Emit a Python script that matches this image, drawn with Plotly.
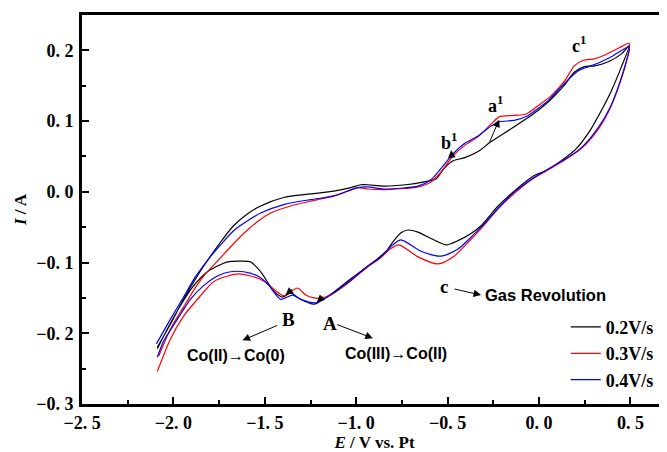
import plotly.graph_objects as go

# ---- data (E / V vs. Pt, I / A) ----
series_names = ["0.2V/s", "0.3V/s", "0.4V/s"]
series_colors = ["#000000", "#ff0000", "#0000ff"]

# 0.2 V/s : anodic branch then cathodic branch
e_02 = [-2.088, -2.016, -1.945, -1.879, -1.808, -1.742, -1.671, -1.594, -1.523, -1.397,
        -1.249, -1.123, -1.030, -0.975, -0.936, -0.849, -0.728, -0.629, -0.564, -0.520,
        -0.470, -0.410, -0.333, -0.262, -0.136, -0.032, 0.050, 0.133, 0.193, 0.248,
        0.303, 0.379, 0.451, 0.494,
        0.451, 0.396, 0.341, 0.275, 0.204, 0.122, 0.039, -0.026, -0.136, -0.224,
        -0.317, -0.372, -0.443, -0.509, -0.591, -0.662, -0.717, -0.755, -0.794, -0.830,
        -0.880, -0.936, -1.030, -1.123, -1.194, -1.232, -1.304, -1.359, -1.402, -1.452,
        -1.523, -1.578, -1.633, -1.704, -1.759, -1.814, -1.890, -1.962, -2.033, -2.088]
i_02 = [-0.220, -0.187, -0.152, -0.123, -0.095, -0.071, -0.048, -0.031, -0.020, -0.008,
        -0.003, 0.001, 0.006, 0.010, 0.010, 0.008, 0.010, 0.014, 0.018, 0.033,
        0.044, 0.048, 0.057, 0.071, 0.092, 0.110, 0.127, 0.149, 0.169, 0.177,
        0.178, 0.184, 0.195, 0.207,
        0.177, 0.143, 0.115, 0.085, 0.061, 0.044, 0.030, 0.023, 0.001, -0.020,
        -0.048, -0.059, -0.069, -0.075, -0.066, -0.057, -0.054, -0.058, -0.069, -0.082,
        -0.094, -0.105, -0.123, -0.142, -0.154, -0.159, -0.152, -0.143, -0.149, -0.140,
        -0.113, -0.099, -0.098, -0.099, -0.105, -0.113, -0.133, -0.161, -0.194, -0.222]

# 0.3 V/s
e_03 = [-2.080, -2.016, -1.945, -1.879, -1.825, -1.759, -1.688, -1.616, -1.539, -1.468,
        -1.359, -1.211, -1.101, -0.991, -0.936, -0.849, -0.662, -0.591, -0.536, -0.470,
        -0.410, -0.333, -0.262, -0.218, -0.136, -0.070, -0.004, 0.067, 0.138, 0.193,
        0.242, 0.303, 0.357, 0.434, 0.494,
        0.467, 0.396, 0.325, 0.231, 0.122, -0.004, -0.059, -0.152, -0.224, -0.317,
        -0.372, -0.465, -0.553, -0.662, -0.766, -0.810, -0.870, -0.936, -1.030, -1.123,
        -1.183, -1.232, -1.276, -1.320, -1.364, -1.397, -1.430, -1.507, -1.578, -1.644,
        -1.704, -1.781, -1.852, -1.945, -2.016, -2.088]
i_03 = [-0.232, -0.194, -0.163, -0.135, -0.116, -0.098, -0.078, -0.059, -0.042, -0.030,
        -0.020, -0.011, -0.004, 0.006, 0.004, 0.003, 0.007, 0.014, 0.028, 0.051,
        0.065, 0.078, 0.096, 0.106, 0.108, 0.110, 0.122, 0.136, 0.156, 0.178,
        0.186, 0.188, 0.193, 0.203, 0.210,
        0.174, 0.122, 0.089, 0.061, 0.042, 0.023, 0.014, -0.006, -0.024, -0.052,
        -0.067, -0.091, -0.102, -0.092, -0.075, -0.080, -0.094, -0.106, -0.126, -0.143,
        -0.150, -0.150, -0.146, -0.136, -0.142, -0.147, -0.142, -0.126, -0.119, -0.116,
        -0.119, -0.127, -0.147, -0.176, -0.208, -0.254]

# 0.4 V/s
e_04 = [-2.093, -2.016, -1.945, -1.879, -1.808, -1.742, -1.671, -1.594, -1.523, -1.397,
        -1.249, -1.123, -0.991, -0.936, -0.849, -0.662, -0.591, -0.536, -0.470, -0.410,
        -0.333, -0.262, -0.218, -0.136, -0.059, -0.032, 0.050, 0.138, 0.215, 0.259,
        0.314, 0.396, 0.494,
        0.462, 0.390, 0.319, 0.226, 0.116, -0.004, -0.152, -0.317, -0.372, -0.443,
        -0.536, -0.646, -0.755, -0.800, -0.870, -0.936, -1.030, -1.123, -1.220, -1.304,
        -1.348, -1.413, -1.485, -1.539, -1.616, -1.688, -1.759, -1.836, -1.907, -1.978,
        -2.055, -2.088]
i_04 = [-0.215, -0.180, -0.149, -0.120, -0.095, -0.075, -0.055, -0.041, -0.030, -0.018,
        -0.011, -0.006, 0.006, 0.007, 0.004, 0.008, 0.017, 0.033, 0.054, 0.068,
        0.079, 0.093, 0.099, 0.101, 0.108, 0.113, 0.129, 0.153, 0.171, 0.176,
        0.181, 0.191, 0.205,
        0.171, 0.120, 0.089, 0.061, 0.042, 0.024, -0.004, -0.050, -0.064, -0.081,
        -0.091, -0.084, -0.068, -0.075, -0.093, -0.105, -0.125, -0.143, -0.157, -0.152,
        -0.146, -0.152, -0.130, -0.119, -0.113, -0.113, -0.119, -0.133, -0.152, -0.180,
        -0.212, -0.234]

S = "\u00a0"
M = "\u2212"
x_tick_vals = [-2.5, -2.0, -1.5, -1.0, -0.5, 0.0, 0.5]
x_tick_text = [M + "2." + S + "5", M + "2." + S + "0", M + "1." + S + "5", M + "1." + S + "0",
               M + "0." + S + "5", "0." + S + "0", "0." + S + "5"]
y_tick_vals = [-0.3, -0.2, -0.1, 0.0, 0.1, 0.2]
y_tick_text = [M + "0." + S + "3", M + "0." + S + "2", M + "0." + S + "1",
               "0." + S + "0", "0." + S + "1", "0." + S + "2"]

serif = "Liberation Serif"
sans = "Liberation Sans"

fig = go.Figure()
for name, color, xs, ys in [(series_names[0], series_colors[0], e_02, i_02),
                            (series_names[1], series_colors[1], e_03, i_03),
                            (series_names[2], series_colors[2], e_04, i_04)]:
    fig.add_trace(go.Scatter(x=xs, y=ys, mode="lines", name=name,
                             line=dict(color=color, width=1.2, shape="spline", smoothing=0.7)))

ann = []
def label(x, y, text, size=18, font=serif):
    ann.append(dict(x=x, y=y, xref="x", yref="y", text=text, showarrow=False,
                    font=dict(family=font, size=size, color="black")))

def arrow(x0, y0, x1, y1, head=2, size=1.5):
    ann.append(dict(x=x1, y=y1, ax=x0, ay=y0, xref="x", yref="y", axref="x", ayref="y",
                    text="", showarrow=True, arrowhead=head, arrowsize=size,
                    arrowwidth=1, arrowcolor="black"))

label(0.22, 0.208, "<b>c<sup>1</sup></b>")
label(-0.236, 0.124, "<b>a<sup>1</sup></b>")
label(-0.49, 0.071, "<b>b<sup>1</sup></b>")
label(-1.37, -0.180, "<b>B</b>", 19)
label(-1.145, -0.186, "<b>A</b>", 19)
label(-0.52, -0.134, "<b>c</b>", 19)
label(0.035, -0.146, "<b>Gas Revolution</b>", 16.5, sans)
label(-1.655, -0.232, "<b>Co(II)\u2192Co(0)</b>", 16, sans)
label(-0.78, -0.229, "<b>Co(III)\u2192Co(II)</b>", 16, sans)

arrow(-1.424, -0.188, -1.622, -0.210)
arrow(-1.112, -0.187, -0.909, -0.207)
arrow(-0.470, -0.137, -0.317, -0.146)
arrow(-0.273, 0.069, -0.218, 0.102)
arrow(-0.476, 0.046, -0.481, 0.059)
arrow(-1.342, -0.136, -1.386, -0.146)
arrow(-1.172, -0.146, -1.216, -0.156)

# page body has an 8px margin, so the figure is sized to fill the remaining window
fig.update_layout(
    width=659, height=444,
    margin=dict(l=74, r=0, t=7, b=48),
    paper_bgcolor="white", plot_bgcolor="white",
    annotations=ann,
    showlegend=True,
    legend=dict(x=0.827, y=0.245, xanchor="left", yanchor="top",
                bgcolor="rgba(0,0,0,0)",
                font=dict(family=serif, size=18, color="black", weight="bold"),
                tracegroupgap=0),
    xaxis=dict(range=[-2.5, 0.7], showgrid=False, zeroline=False, automargin=False,
               showline=True, linewidth=3, linecolor="black", mirror=True,
               ticks="inside", ticklen=7, tickwidth=2, tickcolor="black",
               tickvals=x_tick_vals, ticktext=x_tick_text,
               tickfont=dict(family=serif, size=18, color="black", weight="bold"),
               minor=dict(dtick=0.25, tick0=-2.5, ticks="inside", ticklen=4, tickwidth=2, tickcolor="black"),
               title=dict(text="<b><i>E</i> / V vs. Pt</b>", font=dict(family=serif, size=17, color="black"), standoff=4)),
    yaxis=dict(range=[-0.3, 0.25], showgrid=False, zeroline=False, automargin=False,
               showline=True, linewidth=3, linecolor="black", mirror=False,
               ticks="inside", ticklen=7, tickwidth=2, tickcolor="black",
               tickvals=y_tick_vals, ticktext=y_tick_text, ticklabelstandoff=2,
               tickfont=dict(family=serif, size=18, color="black", weight="bold"),
               minor=dict(dtick=0.05, tick0=-0.3, ticks="inside", ticklen=4, tickwidth=2, tickcolor="black"),
               title=dict(text="<b><i>I</i> / A</b>", font=dict(family=serif, size=17, color="black"), standoff=6)),
)

fig.write_html("out.html")
